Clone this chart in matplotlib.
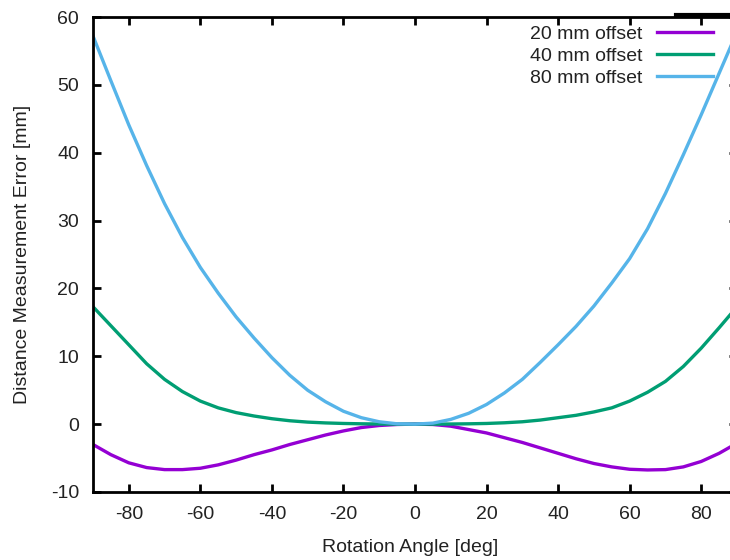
import numpy as np
import matplotlib
matplotlib.use("Agg")
import matplotlib.pyplot as plt
from matplotlib.lines import Line2D

plt.rcParams['font.family'] = ['Liberation Sans', 'DejaVu Sans']
plt.rcParams['axes.unicode_minus'] = False

# Rotation angle samples [deg]
angle = list(range(-90, 95, 5))

err_20 = [-3.0, -4.5, -5.7, -6.4, -6.7, -6.7, -6.5, -6.0, -5.3, -4.5,
          -3.8, -3.0, -2.3, -1.6, -1.0, -0.5, -0.2, -0.05, 0.0,
          -0.05, -0.3, -0.8, -1.3, -2.0, -2.7, -3.5, -4.3, -5.1, -5.8,
          -6.3, -6.65, -6.75, -6.7, -6.3, -5.5, -4.3, -2.8]
err_40 = [17.3, 14.5, 11.7, 8.9, 6.6, 4.8, 3.4, 2.4, 1.7, 1.2,
          0.8, 0.5, 0.3, 0.18, 0.1, 0.05, 0.02, 0.0, 0.0,
          0.0, 0.02, 0.05, 0.1, 0.2, 0.35, 0.6, 0.95, 1.3, 1.8,
          2.4, 3.4, 4.7, 6.3, 8.5, 11.2, 14.2, 17.3]
err_80 = [57.2, 50.6, 44.1, 38.1, 32.5, 27.5, 23.1, 19.3, 15.8, 12.7,
          9.8, 7.2, 5.0, 3.3, 1.9, 0.95, 0.35, 0.05, 0.0,
          0.15, 0.7, 1.6, 2.9, 4.6, 6.6, 9.1, 11.7, 14.4, 17.4,
          20.8, 24.4, 28.8, 34.0, 39.7, 45.6, 51.7, 57.8]

labels = ['20 mm offset', '40 mm offset', '80 mm offset']
colors = ['#9400d3', '#009e73', '#56b4e9']

W, H = 730, 560
fig = plt.figure(figsize=(W / 100, H / 100), dpi=100)
# plot area runs a little past the right edge of the picture
ax = fig.add_axes([93 / W, 1 - 492 / H, (737 - 93) / W, (492 - 17) / H])

for y, lab, c in zip([err_20, err_40, err_80], labels, colors):
    ax.plot(angle, y, color=c, lw=2.4, label=lab)

ax.set_xlim(-90, 90)
ax.set_ylim(-10, 60)
ax.set_xticks(np.arange(-80, 81, 20))
ax.set_yticks(np.arange(-10, 61, 10))
ax.tick_params(direction='in', top=True, right=True, length=6, width=2,
               labelsize=14, pad=10, colors='black', labelcolor='#222222')
for s in ax.spines.values():
    s.set_linewidth(2)

ax.set_xlabel('Rotation Angle [deg]', fontsize=14, color='#222222')
ax.set_ylabel('Distance Measurement Error [mm]', fontsize=14, color='#222222')
ax.xaxis.set_label_coords((410 - 93) / 644, (492 - 539) / 475)
ax.yaxis.set_label_coords((31 - 93) / 644, 0.5)

leg = fig.legend(loc='upper right', bbox_to_anchor=(713 / W, 1 - 25 / H),
                 frameon=False, markerfirst=False, fontsize=14,
                 handlelength=2.9, handletextpad=0.75, labelspacing=0.23,
                 borderpad=0, borderaxespad=0)
for t in leg.get_texts():
    t.set_color('#222222')

# thicker bit of the top border on the right
fig.add_artist(Line2D([676 / W, 1.0], [1 - 15 / H, 1 - 15 / H], color='black', lw=3))

fig.savefig('out.png', dpi=100)
